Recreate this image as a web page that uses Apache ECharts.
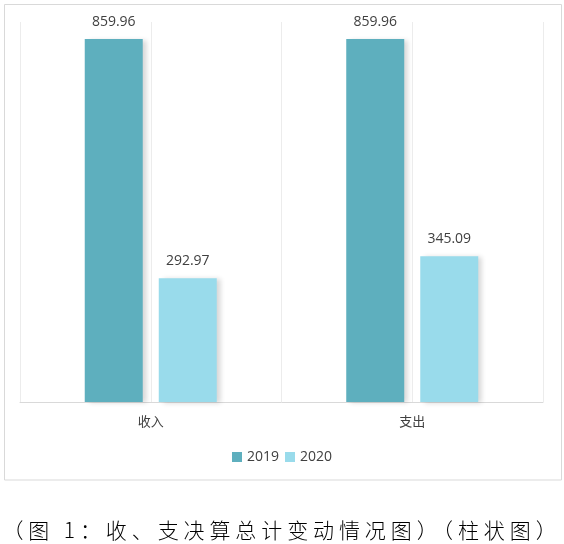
<!DOCTYPE html>
<html>
<head>
<meta charset="utf-8">
<script src="https://cdn.jsdelivr.net/npm/echarts@6/dist/echarts.min.js"></script>
<style>
  html, body { margin: 0; padding: 0; background: #fff; }
  #wrap { position: relative; width: 564px; height: 544px; }
  #chart { position: absolute; left: 0; top: 0; width: 564px; height: 544px; }
  #caption {
    position: absolute; left: 0; top: 514px; width: 564px; text-align: center;
    font-family: "Noto Sans CJK SC", sans-serif; font-weight: 300;
    font-size: 21px; letter-spacing: 4.9px; color: #000; line-height: 30px; white-space: nowrap;
  }
</style>
</head>
<body>
<div id="wrap">
  <div id="chart"></div>
  <div id="caption">（图 1：收、支决算总计变动情况图）（柱状图）</div>
</div>
<script>
const categories = ['收入', '支出'];
const seriesNames = ['2019', '2020'];
const values2019 = [859.96, 859.96];
const values2020 = [292.97, 345.09];
const colors = ['#5EAFBE', '#99DBEB'];

const chart = echarts.init(document.getElementById('chart'), null, { renderer: 'canvas' });
const labelStyle = {
  show: true, position: 'top', distance: 10,
  color: '#404040', fontSize: 14, fontFamily: '"Open Sans", "Noto Sans", sans-serif'
};
const shadow = { shadowColor: 'rgba(0,0,0,0.16)', shadowBlur: 5, shadowOffsetX: 4, shadowOffsetY: 1 };
chart.setOption({
  animation: false,
  grid: { left: 20, right: 21, top: 22, bottom: 142, containLabel: false },
  graphic: [{
    type: 'rect', shape: { x: 4.5, y: 4.5, width: 557, height: 475.5 },
    style: { fill: 'none', stroke: '#d9d9d9', lineWidth: 1 }, z: 0
  }],
  legend: {
    data: seriesNames, left: 'center', top: 445,
    icon: 'rect', itemWidth: 10, itemHeight: 10, itemGap: 6,
    textStyle: { color: '#404040', fontSize: 14, fontFamily: '"Open Sans", "Noto Sans", sans-serif' }
  },
  xAxis: [{
    type: 'category', data: categories, boundaryGap: true,
    axisLine: { show: true, lineStyle: { color: '#d9d9d9', width: 1 } },
    axisTick: { show: false },
    axisLabel: { color: '#404040', fontSize: 13, margin: 13, fontFamily: '"Noto Sans CJK SC", sans-serif' },
    splitLine: { show: false }
  }, {
    type: 'category', data: ['', '', '', ''], boundaryGap: true, position: 'bottom',
    axisLine: { show: false }, axisTick: { show: false }, axisLabel: { show: false },
    splitLine: { show: true, lineStyle: { color: '#ececec', width: 1 } }
  }],
  yAxis: {
    type: 'value', min: 0, max: 900,
    axisLine: { show: false }, axisTick: { show: false }, axisLabel: { show: false },
    splitLine: { show: false }
  },
  series: [{
    name: seriesNames[0], type: 'bar', data: values2019, xAxisIndex: 0,
    barWidth: 58, barGap: '27.6%',
    itemStyle: Object.assign({ color: colors[0] }, shadow),
    label: labelStyle
  }, {
    name: seriesNames[1], type: 'bar', data: values2020, xAxisIndex: 0,
    barWidth: 58, barGap: '27.6%',
    itemStyle: Object.assign({ color: colors[1] }, shadow),
    label: labelStyle
  }]
});
</script>
</body>
</html>
